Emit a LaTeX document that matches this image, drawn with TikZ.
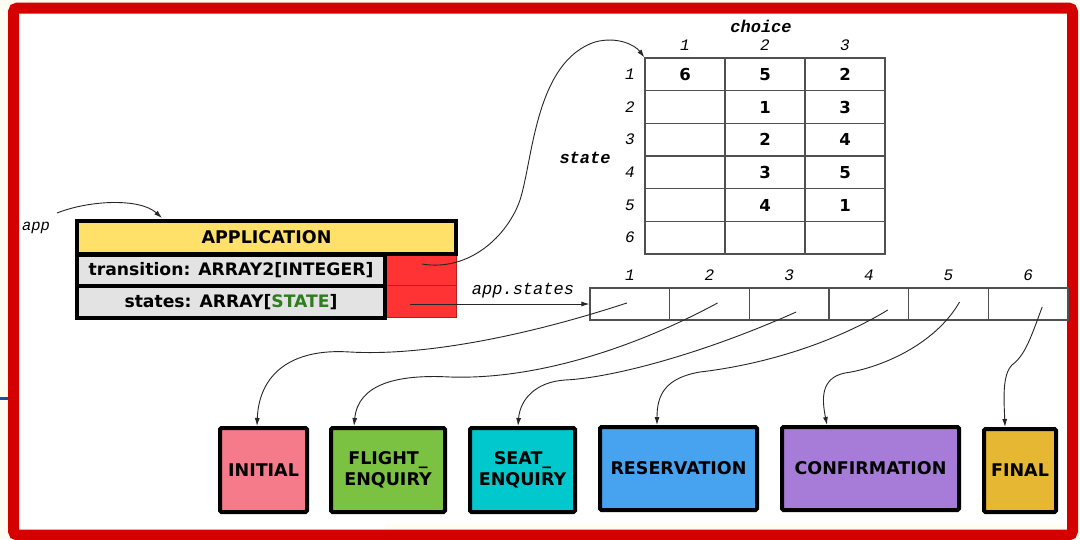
\documentclass[tikz,border=0pt]{standalone}
\usepackage{fontspec}
\setmainfont{DejaVu Sans}
\setmonofont{Liberation Mono}
\usetikzlibrary{arrows.meta,calc}

\definecolor{pagecream}{HTML}{FFFDF2}
\definecolor{framered}{HTML}{D40000}
\definecolor{sheetblue}{HTML}{1F4E9A}
\definecolor{hdryellow}{HTML}{FFE16A}
\definecolor{fldgray}{HTML}{E3E3E3}
\definecolor{ptrred}{HTML}{FF3333}
\definecolor{ptrline}{HTML}{B81E1E}
\definecolor{stategreen}{HTML}{2E7D1E}
\definecolor{cpink}{HTML}{F57A8A}
\definecolor{cgreen}{HTML}{7BC142}
\definecolor{cteal}{HTML}{00C8CC}
\definecolor{cblue}{HTML}{47A2F0}
\definecolor{cpurple}{HTML}{A77CD8}
\definecolor{cgold}{HTML}{E5B732}
\definecolor{gridline}{HTML}{505050}

\newcommand\boxfont{\fontsize{17.5}{21}\selectfont\bfseries}
\newcommand\fldfont{\fontsize{17.2}{21}\selectfont\bfseries}
\newcommand\numfont{\fontsize{16.5}{20}\selectfont\bfseries}
\newcommand\idxfont{\fontsize{16}{20}\selectfont\ttfamily\itshape}
\newcommand\codefont{\fontsize{17}{20}\selectfont\ttfamily\itshape}

\begin{document}
\begin{tikzpicture}[x=1pt,y=-1pt,
  hdrbox/.style={draw=black, line width=3.2pt, fill=hdryellow, inner sep=0pt, font=\boxfont},
  fldbox/.style={draw=black, line width=3.2pt, fill=fldgray, inner sep=0pt, font=\fldfont},
  ptrbox/.style={draw=ptrline, line width=0.6pt, fill=ptrred, inner sep=0pt},
  cell/.style={draw=gridline, line width=1.2pt, inner sep=0pt, minimum width=80pt, minimum height=32.67pt},
  acell/.style={draw=gridline, line width=1.2pt, inner sep=0pt, minimum width=79.67pt, minimum height=32pt},
  num/.style={font=\numfont, inner sep=0pt},
  idx/.style={font=\idxfont, inner sep=0pt},
  code/.style={font=\codefont, inner sep=0pt},
  statebox/.style={draw=black, line width=4pt, rounded corners=1.5pt, inner sep=0pt,
    font=\boxfont, align=center},
  conn/.style={draw=black!85, line width=0.9pt, -{Latex[length=8pt,width=5pt]}}
]
\useasboundingbox (0,0) rectangle (1080,539);

% sheet behind the slide and the slide itself
\fill[pagecream] (0,0) rectangle (1080,539);
\fill[white] (13,8) rectangle (1073,535);
\fill[pagecream] (385,524) rectangle (1073,535);
\draw[sheetblue, line width=3pt] (0,398.5) -- (8,398.5);
\draw[framered, line width=11pt, rounded corners=4pt] (13.5,8) rectangle (1072.5,535);

% ---------- APPLICATION object ----------
\node[ptrbox, minimum width=71pt, minimum height=30pt] (ptrT) at (420.5,270) {};
\node[ptrbox, minimum width=71pt, minimum height=32pt] (ptrS) at (420.5,301) {};
\node[fldbox, minimum width=308pt, minimum height=31pt] (fT) at (231,270.5)
  {transition: ARRAY2[INTEGER]};
\node[fldbox, minimum width=308pt, minimum height=32pt] (fS) at (231,302)
  {states: ARRAY[\textcolor{stategreen}{STATE}]};
\node[hdrbox, minimum width=379pt, minimum height=33pt] (hdr) at (266.5,237.5) {APPLICATION};

\node[code, font=\fontsize{15.5}{18}\selectfont\ttfamily\itshape] (applbl) at (36,228) {app};
\coordinate (appfrom) at (57,213);
\coordinate (appto) at (162,218);
\draw[conn] (appfrom) .. controls (90,200) and (140,198) .. (appto);

% ---------- transition table ----------
\node[code, font=\fontsize{17}{20}\selectfont\ttfamily\bfseries\itshape] (choice) at (761,26) {choice};
\node[code, font=\fontsize{17}{20}\selectfont\ttfamily\bfseries\itshape] (statelbl) at (585,158) {state};
\foreach \r in {1,...,6}{
  \foreach \c in {1,2,3}{
    \node[cell] (t\r\c) at ({645+80*(\c-0.5)}, {58+32.67*(\r-0.5)}) {};
  }
  \node[idx] (rl\r) at (630, {58+32.67*(\r-0.5)}) {\r};
}
\foreach \c in {1,2,3}{
  \node[idx] (cl\c) at ({645+80*(\c-0.5)}, 45) {\c};
}
\foreach \r/\c/\v in {1/1/6,1/2/5,1/3/2,2/2/1,2/3/3,3/2/2,3/3/4,4/2/3,4/3/5,5/2/4,5/3/1}{
  \node[num] (v\r\c) at (t\r\c) {\v};
}

\coordinate (tfrom) at (422,264);
\draw[conn] (tfrom) .. controls (470,272) and (508,235) .. (520,200)
  .. controls (533,160) and (535,62) .. (595,42)
  .. controls (617,36) and (635,45) .. (t11.north west);

% ---------- states array ----------
\foreach \i in {1,...,6}{
  \node[acell] (s\i) at ({590+79.67*(\i-0.5)}, 304) {};
  \node[idx] (al\i) at ({590+79.67*(\i-0.5)}, 275) {\i};
}
\node[code] (appstates) at (523,291) {app.states};
\coordinate (sfrom) at (410,304);
\draw[conn] (sfrom) -- (s1.west);

% ---------- state objects ----------
\node[statebox, fill=cpink,   minimum width=87pt,  minimum height=84pt] (initial) at (263.5,470) {INITIAL};
\node[statebox, fill=cgreen,  minimum width=114pt, minimum height=84pt] (flight)  at (388,470) {FLIGHT\_\\ENQUIRY};
\node[statebox, fill=cteal,   minimum width=105pt, minimum height=84pt] (seat)    at (522.5,470) {SEAT\_\\ENQUIRY};
\node[statebox, fill=cblue,   minimum width=157pt, minimum height=83pt] (reserv)  at (678.5,468.5) {RESERVATION};
\node[statebox, fill=cpurple, minimum width=177pt, minimum height=83pt] (confirm) at (870.5,468.5) {CONFIRMATION};
\node[statebox, fill=cgold,   minimum width=72pt,  minimum height=83pt] (final)   at (1020,470.5) {FINAL};

% references held in the array
\coordinate (p1) at ($(s1.center)+(-3,-1)$);
\coordinate (p2) at ($(s2.center)+(8,-1)$);
\coordinate (p3) at ($(s3.center)+(7,8)$);
\coordinate (p4) at ($(s4.center)+(19,6)$);
\coordinate (p5) at ($(s5.center)+(11,-2)$);
\coordinate (p6) at ($(s6.center)+(14,3)$);

\draw[conn] (p1) .. controls (520,338) and (420,356) .. (350,352)
  .. controls (290,348) and (259,375) .. ($(initial.north west)+(39,0)$);
\draw[conn] (p2) .. controls (640,345) and (540,380) .. (450,377)
  .. controls (395,374) and (358,385) .. ($(flight.north west)+(25,0)$);
\draw[conn] (p3) .. controls (700,355) and (610,378) .. (565,380)
  .. controls (535,382) and (520,400) .. ($(seat.north west)+(50,0)$);
\draw[conn] (p4) .. controls (830,345) and (760,365) .. (700,372)
  .. controls (665,378) and (657,395) .. ($(reserv.north west)+(59,0)$);
\draw[conn] (p5) .. controls (935,345) and (880,368) .. (845,373)
  .. controls (820,378) and (822,400) .. ($(confirm.north west)+(47,0)$);
\draw[conn] (p6) .. controls (1030,340) and (1025,355) .. (1012,365)
  .. controls (1002,375) and (1004,400) .. ($(final.north west)+(23,0)$);
\end{tikzpicture}
\end{document}
